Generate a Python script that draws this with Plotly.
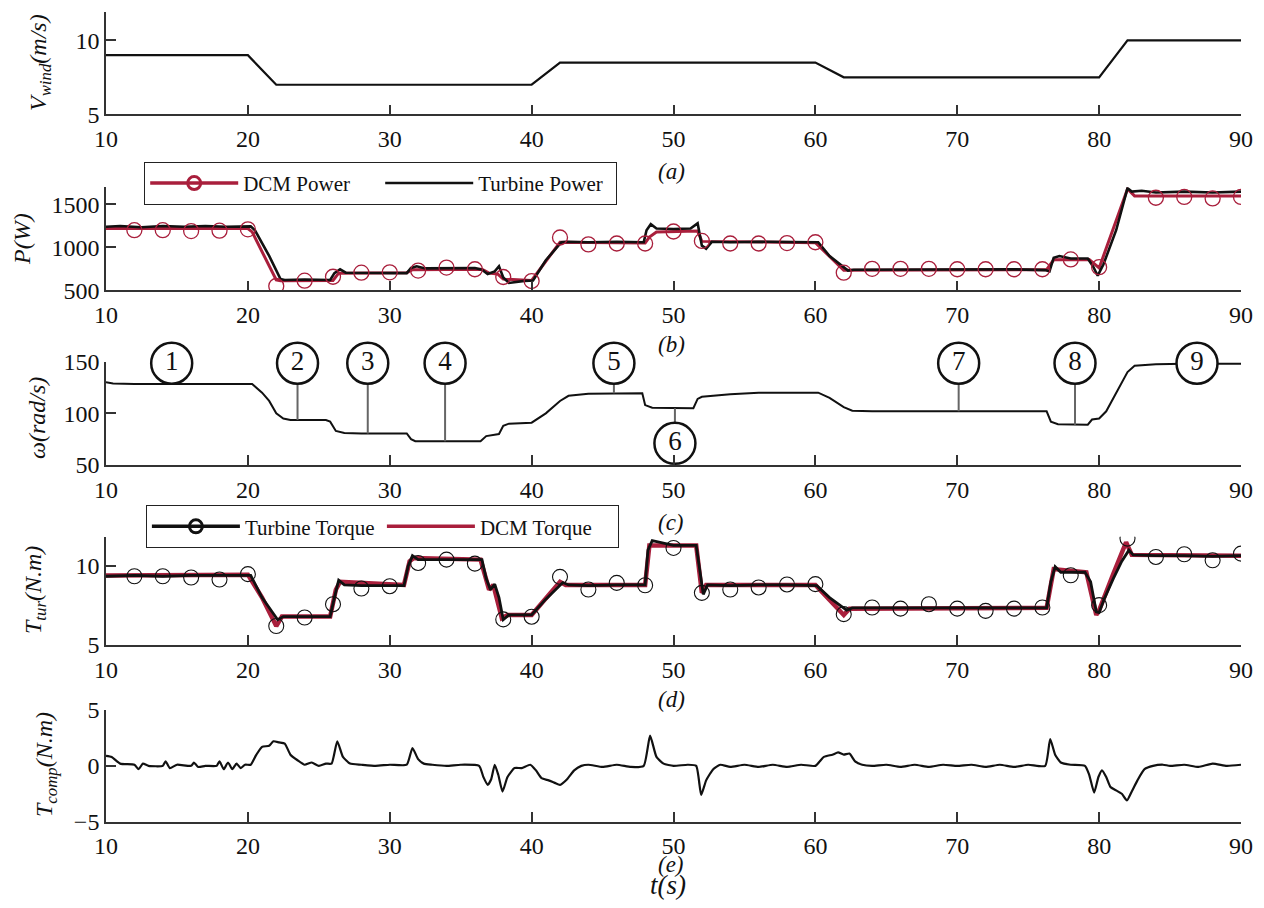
import plotly.graph_objects as go

FONT = "Liberation Serif"
RED = "#A91F3C"
BLK = "#111111"
AX = "#333333"

# ---------------- data ----------------
x_ticks = [10, 20, 30, 40, 50, 60, 70, 80, 90]

# (a) wind speed
t_wind = [10, 20, 22, 40, 42, 60, 62, 80, 82, 90]
v_wind = [9, 9, 7, 7, 8.5, 8.5, 7.5, 7.5, 10, 10]

# (b) turbine power (black)
t_pt = [10, 11, 12.5, 14, 15.5, 17, 18.5, 20.2, 20.5, 21.5, 22.3, 22.6, 24, 25.8, 26.1, 26.5, 26.9, 28, 30,
        31.2, 31.5, 31.9, 32.5, 34, 36, 36.5, 36.9, 37.4, 37.7, 38.0, 38.4, 39.5, 40.1, 41, 42.1, 42.5, 44, 46,
        47.9, 48.1, 48.4, 48.8, 50, 51.2, 51.5, 51.7, 52.0, 52.3, 52.7, 54, 56, 58, 60.2, 61, 62.3, 62.7, 64,
        66, 68, 70, 72, 74, 76.2, 76.5, 76.8, 77.2, 78, 79.2, 79.6, 79.9, 80.3, 81.2, 82.0, 82.3, 83, 84, 86, 88, 90]
p_turb = [1240, 1250, 1235, 1250, 1240, 1250, 1240, 1245, 1200, 900, 630, 620, 625, 620, 700, 745, 705, 705, 700,
          700, 760, 780, 755, 755, 760, 740, 690, 720, 780, 650, 585, 610, 615, 850, 1060, 1065, 1060, 1065,
          1060, 1200, 1270, 1220, 1215, 1220, 1260, 1280, 1020, 985, 1065, 1060, 1065, 1060, 1060, 900, 730, 740, 740,
          745, 738, 742, 740, 745, 735, 720, 880, 900, 870, 870, 770, 670, 800, 1200, 1690, 1650, 1660, 1640, 1650, 1640, 1650]

# (b) DCM power (red line)
t_pd = [10, 20.0, 20.3, 22.0, 22.3, 26.0, 26.4, 31.2, 31.6, 36.5, 37.0, 37.6, 38.0, 40.0, 42.0, 48.0, 48.3, 48.8,
        51.7, 52.0, 60.0, 62.0, 76.3, 76.8, 79.3, 79.8, 80.0, 82.0, 82.5, 90]
p_dcm = [1220, 1220, 1180, 620, 610, 615, 700, 705, 740, 745, 700, 690, 630, 615, 1060, 1050, 1120, 1180,
         1190, 1070, 1055, 735, 740, 855, 860, 790, 760, 1680, 1600, 1600]

# (b) DCM power markers
t_pm = [12, 14, 16, 18, 20, 22, 24, 26, 28, 30, 32, 34, 36, 38, 40, 42, 44, 46, 48, 50, 52, 54, 56, 58, 60,
        62, 64, 66, 68, 70, 72, 74, 76, 78, 80, 84, 86, 88, 90]
p_mark = [1200, 1200, 1190, 1195, 1210, 550, 612, 658, 705, 709, 730, 765, 745, 655, 608, 1115, 1035, 1045, 1045,
          1185, 1075, 1045, 1045, 1050, 1060, 705, 750, 750, 750, 745, 745, 745, 745, 860, 770, 1578, 1588, 1570, 1588]

# (c) rotor speed
t_w = [10, 10.5, 12, 14, 16, 18, 20.3, 21, 21.5, 22, 22.5, 23, 25.5, 25.8, 26.2, 26.8, 28, 31.2, 31.5, 31.8, 34,
       36.4, 36.8, 37.4, 37.7, 38.0, 38.4, 40.0, 41.0, 42.0, 42.6, 44, 47.8, 48.0, 48.5, 51.4, 51.7, 52.0, 54, 56,
       60.2, 61, 62, 62.6, 64, 76.3, 76.6, 77.1, 79.2, 79.5, 80.0, 80.5, 81.0, 81.5, 82.0, 82.5, 84, 86, 88, 90]
omega = [130, 129, 128.5, 128.5, 128.5, 128.5, 128.5, 120, 112, 100, 95, 93.5, 93.5, 92, 83, 81, 80.5, 80.5, 75, 73, 73,
         73, 78, 79, 80, 88, 90, 91, 100, 112, 117, 119, 119.5, 108, 105.5, 105, 114, 116, 118.5, 120,
         120, 115, 106, 102.5, 102, 102, 92, 89.5, 89, 94, 95, 102, 115, 128, 140, 146, 147.5, 148, 148, 148]

# (c) numbered operating points
t_lab = [14.63, 23.5, 28.45, 33.9, 45.8, 50.1, 70.1, 78.3, 86.9]
w_lab = [148.5, 148.5, 148.5, 148.5, 148.5, 71, 148.5, 148.5, 148.5]
n_lab = ["1", "2", "3", "4", "5", "6", "7", "8", "9"]
# stems: (time, from, to)
stem_t = [23.5, 28.45, 33.9, 45.8, 50.1, 70.1, 78.3]
stem_from = [128.5, 128.5, 128.5, 128.5, 105, 128.5, 128.5]
stem_to = [93.5, 80.5, 73, 119.5, 91.5, 102, 89]

# (d) turbine torque (black)
t_tt = [10, 12, 14, 16, 18, 20.2, 21, 22.1, 22.5, 24, 25.8, 26.1, 26.4, 26.8, 28, 31.0, 31.3, 31.6, 32, 34, 36.5,
        36.8, 37.1, 37.4, 37.7, 38.0, 38.4, 40.0, 41, 42.2, 42.6, 44, 46, 48.0, 48.2, 48.5, 50, 51.6, 51.9, 52.1,
        52.4, 54, 56, 58, 60.1, 61, 62.2, 62.6, 64, 70, 76.3, 76.6, 76.9, 77.3, 79.0, 79.4, 79.8, 80.0, 80.4, 81,
        81.6, 82.1, 82.4, 84, 86, 88, 90]
tq_turb = [9.35, 9.4, 9.35, 9.4, 9.4, 9.4, 8.0, 6.6, 6.8, 6.8, 6.8, 8.0, 9.1, 8.8, 8.75, 8.75, 10.0, 10.65, 10.4, 10.4, 10.4,
           9.2, 8.5, 8.85, 8.0, 6.6, 6.9, 6.9, 7.9, 8.95, 8.8, 8.75, 8.8, 8.8, 11.0, 11.6, 11.3, 11.3, 9.5, 8.2,
           8.8, 8.75, 8.8, 8.8, 8.75, 8.0, 7.2, 7.35, 7.35, 7.35, 7.35, 9.0, 9.95, 9.6, 9.6, 9.0, 7.1, 7.05, 8.0, 9.2,
           10.3, 11.0, 10.7, 10.65, 10.65, 10.6, 10.65]

# (d) DCM torque (red)
t_td = [10, 20.0, 21.0, 22.0, 22.4, 25.8, 26.2, 26.5, 31.0, 31.4, 31.7, 36.4, 37.0, 37.3, 37.9, 38.3, 40.0, 42.0,
        42.4, 48.0, 48.3, 51.6, 52.0, 52.3, 60.0, 62.0, 62.4, 76.3, 76.8, 79.1, 79.8, 80.0, 81.0, 81.9, 82.3, 90]
tq_dcm = [9.4, 9.45, 8.0, 6.2, 6.8, 6.8, 8.5, 9.0, 8.8, 10.3, 10.5, 10.4, 8.5, 8.8, 6.7, 6.9, 6.9, 9.0,
          8.8, 8.8, 11.3, 11.3, 8.3, 8.8, 8.8, 6.9, 7.3, 7.35, 9.8, 9.6, 6.9, 7.2, 9.5, 11.5, 10.7, 10.65]

# (d) turbine torque markers
t_tm = [12, 14, 16, 18, 20, 22, 24, 26, 28, 30, 32, 34, 36, 38, 40, 42, 44, 46, 48, 50, 52, 54, 56, 58, 60,
        62, 64, 66, 68, 70, 72, 74, 76, 78, 80, 82, 84, 86, 88, 90]
tq_mark = [9.35, 9.35, 9.27, 9.14, 9.48, 6.2, 6.74, 7.58, 8.57, 8.72, 10.19, 10.4, 10.15, 6.62, 6.79, 9.31, 8.51, 8.93,
           8.78, 11.14, 8.3, 8.51, 8.64, 8.83, 8.85, 6.95, 7.37, 7.3, 7.58, 7.3, 7.16, 7.3, 7.37, 9.41, 7.52,
           11.73, 10.57, 10.74, 10.36, 10.78]

# (e) compensation torque
t_c = [10, 10.4, 11, 12, 12.3, 12.6, 13, 14, 14.2, 14.5, 15, 16, 16.2, 16.5, 17, 17.8, 18.0, 18.3, 18.6, 18.9, 19.2,
       19.5, 19.8, 20.2, 20.6, 21.0, 21.5, 21.8, 22.2, 22.6, 23.0, 23.5, 24, 24.5, 25, 25.5, 25.9, 26.3, 26.7, 27.2,
       28, 29, 30, 31.2, 31.6, 32.0, 32.4, 33, 34, 35, 36.3, 36.6, 36.9, 37.15, 37.4, 37.65, 37.95, 38.3, 38.8, 39.3,
       39.9, 40.3, 40.7, 41.2, 41.6, 42.0, 42.5, 43.0, 43.5, 44, 45, 46, 47, 47.9, 48.35, 48.8, 49.3, 50, 51, 51.6,
       51.95, 52.3, 52.8, 53.3, 54, 55, 56, 57, 58, 59, 60, 60.6, 61.2, 61.6, 62.0, 62.4, 62.8, 63.3, 64, 65, 66,
       67, 68, 69, 70, 71, 72, 73, 74, 75, 76.2, 76.55, 76.9, 77.3, 78, 79.0, 79.3, 79.65, 79.95, 80.2, 80.5, 80.8,
       81.2, 81.6, 81.96, 82.3, 82.7, 83.2, 83.8, 84.5, 85, 86, 87, 88, 89, 90]
t_comp = [0.9, 0.8, 0.2, 0.1, -0.3, 0.2, 0.0, 0.0, 0.4, -0.2, 0.1, 0.0, 0.3, -0.1, 0.0, 0.0, 0.4, -0.3, 0.3, -0.3, 0.2,
          -0.2, 0.1, 0.1, 1.0, 1.7, 1.8, 2.2, 2.1, 2.0, 1.0, 0.5, 0.1, 0.3, 0.0, 0.2, 0.2, 2.2, 0.8, 0.2,
          0.1, 0.0, 0.1, 0.1, 1.6, 0.6, 0.2, 0.1, 0.0, 0.1, 0.0, -1.0, -1.7, -1.2, 0.1, -0.8, -2.3, -1.0, -0.2, -0.2,
          0.1, -0.4, -1.1, -1.3, -1.5, -1.7, -1.2, -0.4, 0.0, 0.1, -0.1, 0.1, -0.1, 0.0, 2.7, 0.8, 0.2, 0.0, 0.1, 0.0,
          -2.6, -1.3, -0.3, 0.1, -0.1, 0.1, -0.1, 0.1, -0.1, 0.1, 0.0, 0.8, 1.0, 1.2, 1.0, 1.1, 0.4, 0.1, 0.0, 0.1, -0.1,
          0.1, -0.1, 0.1, 0.0, 0.1, -0.1, 0.1, -0.1, 0.1, 0.0, 2.4, 1.0, 0.3, 0.1, 0.0, -0.8, -2.4, -1.0, -0.4, -1.0, -1.9,
          -2.2, -2.5, -3.1, -2.3, -1.3, -0.3, 0.0, 0.1, 0.0, 0.1, -0.1, 0.2, 0.0, 0.1]

# ---------------- figure ----------------
OFF = 8                      # page body margin of the exported html
W, H = 1264 - 2 * OFF, 908 - 2 * OFF


def px(x):
    return (x - OFF) / W


def py(y):
    return 1 - (y - OFF) / H


XD = [px(106), px(1241)]
tops_bots = [(12.3, 114.3), (187.3, 290.3), (361.7, 465.0), (536.7, 645.0), (710.0, 821.7)]
yranges = [[5, 11.9], [500, 1700], [50, 150], [5, 11.85], [-5, 5]]
ytickvals = [[5, 10], [500, 1000, 1500], [50, 100, 150], [5, 10], [-5, 0, 5]]

fig = go.Figure()


def ax(i):
    return ("x" if i == 1 else f"x{i}"), ("y" if i == 1 else f"y{i}")


# (a)
xa, ya = ax(1)
fig.add_trace(go.Scatter(x=t_wind, y=v_wind, mode="lines", line=dict(color=BLK, width=2.2),
                         xaxis=xa, yaxis=ya, showlegend=False))
# (b)
xa, ya = ax(2)
fig.add_trace(go.Scatter(x=t_pd, y=p_dcm, mode="lines", line=dict(color=RED, width=3),
                         xaxis=xa, yaxis=ya, showlegend=False))
fig.add_trace(go.Scatter(x=t_pt, y=p_turb, mode="lines", line=dict(color=BLK, width=2.6),
                         xaxis=xa, yaxis=ya, showlegend=False))
fig.add_trace(go.Scatter(x=t_pm, y=p_mark, mode="markers",
                         marker=dict(symbol="circle-open", size=15, color=RED, line=dict(width=1.3)),
                         xaxis=xa, yaxis=ya, showlegend=False))
fig.add_trace(go.Scatter(x=[None], y=[None], mode="lines+markers", name="DCM Power",
                         line=dict(color=RED, width=3.5),
                         marker=dict(symbol="circle-open", size=13, color=RED, line=dict(width=3)),
                         xaxis=xa, yaxis=ya, legend="legend"))
fig.add_trace(go.Scatter(x=[None], y=[None], mode="lines", name="Turbine Power",
                         line=dict(color=BLK, width=2.5), xaxis=xa, yaxis=ya, legend="legend"))
# (c)
xa, ya = ax(3)
fig.add_trace(go.Scatter(x=t_w, y=omega, mode="lines", line=dict(color=BLK, width=2),
                         xaxis=xa, yaxis=ya, showlegend=False))
sx, sy = [], []
for t, a, b in zip(stem_t, stem_from, stem_to):
    sx += [t, t, None]
    sy += [a, b, None]
fig.add_trace(go.Scatter(x=sx, y=sy, mode="lines", line=dict(color="#666666", width=2),
                         xaxis=xa, yaxis=ya, showlegend=False, cliponaxis=False))
fig.add_trace(go.Scatter(x=t_lab, y=w_lab, mode="markers+text", text=n_lab, textposition="middle center",
                         textfont=dict(family=FONT, size=27, color=BLK),
                         marker=dict(symbol="circle", size=41, color="white", line=dict(color=BLK, width=2.5)),
                         xaxis=xa, yaxis=ya, showlegend=False, cliponaxis=False))
# (d)
xa, ya = ax(4)
fig.add_trace(go.Scatter(x=t_td, y=tq_dcm, mode="lines", line=dict(color=RED, width=4.5),
                         xaxis=xa, yaxis=ya, showlegend=False))
fig.add_trace(go.Scatter(x=t_tt, y=tq_turb, mode="lines", line=dict(color=BLK, width=2.8),
                         xaxis=xa, yaxis=ya, showlegend=False))
fig.add_trace(go.Scatter(x=t_tm, y=tq_mark, mode="markers",
                         marker=dict(symbol="circle-open", size=15, color=BLK, line=dict(width=1.1)),
                         xaxis=xa, yaxis=ya, showlegend=False))
fig.add_trace(go.Scatter(x=[None], y=[None], mode="lines+markers", name="Turbine Torque",
                         line=dict(color=BLK, width=3.5),
                         marker=dict(symbol="circle-open", size=13, color=BLK, line=dict(width=3)),
                         xaxis=xa, yaxis=ya, legend="legend2"))
fig.add_trace(go.Scatter(x=[None], y=[None], mode="lines", name="DCM Torque",
                         line=dict(color=RED, width=3.5), xaxis=xa, yaxis=ya, legend="legend2"))
# (e)
xa, ya = ax(5)
fig.add_trace(go.Scatter(x=t_c, y=t_comp, mode="lines", line=dict(color=BLK, width=2.2, shape="spline", smoothing=0.5),
                         xaxis=xa, yaxis=ya, showlegend=False))

layout = dict(width=W, height=H, margin=dict(l=0, r=0, t=0, b=0, autoexpand=False),
              paper_bgcolor="white", plot_bgcolor="white",
              font=dict(family=FONT, size=22, color=BLK))
for i in range(1, 6):
    top, bot = tops_bots[i - 1]
    xk = "xaxis" if i == 1 else f"xaxis{i}"
    yk = "yaxis" if i == 1 else f"yaxis{i}"
    yname = "y" if i == 1 else f"y{i}"
    xname = "x" if i == 1 else f"x{i}"
    layout[xk] = dict(domain=XD, anchor=yname, range=[10, 90], tickvals=x_ticks,
                      showline=True, linecolor=AX, linewidth=1.6, ticks="inside", ticklen=10,
                      tickwidth=1.6, tickcolor=AX, showgrid=False, zeroline=False, automargin=False,
                      tickfont=dict(family=FONT, size=24, color=BLK), ticklabelstandoff=2)
    layout[yk] = dict(domain=[py(bot), py(top)], anchor=xname, range=yranges[i - 1],
                      tickvals=ytickvals[i - 1], showline=True, linecolor=AX, linewidth=1.6,
                      ticks="inside", ticklen=10, tickwidth=1.6, tickcolor=AX, showgrid=False,
                      zeroline=False, automargin=False,
                      tickfont=dict(family=FONT, size=24, color=BLK), ticklabelstandoff=0)

leg_common = dict(orientation="h", xanchor="left", yanchor="top", bgcolor="white", bordercolor="#222222",
                  borderwidth=1.2, font=dict(family=FONT, size=21, color=BLK), itemwidth=88,
                  entrywidth=132, traceorder="normal")
layout["legend"] = dict(x=px(144), y=py(161.7), **leg_common)
layout["legend2"] = dict(x=px(145.7), y=py(505), **leg_common)

ann = []


def pa(x, y, text, size=22, angle=0):
    ann.append(dict(x=px(x), y=py(y), xref="paper", yref="paper", text=text, showarrow=False,
                    textangle=angle, font=dict(family=FONT, size=size, color=BLK),
                    xanchor="center", yanchor="middle"))


for lab, yy in zip(["(a)", "(b)", "(c)", "(d)", "(e)"], [171, 344, 522, 699, 864]):
    pa(671, yy, f"<i>{lab}</i>", 23)
pa(668, 885, "<i>t(s)</i>", 27)
pa(40, 63, "<i>V<sub>wind</sub>(m/s)</i>", 24, -90)
pa(22, 239, "<i>P(W)</i>", 24, -90)
pa(37, 418, "<i>ω(rad/s)</i>", 24, -90)
pa(35, 590, "<i>T<sub>tur</sub>(N.m)</i>", 24, -90)
pa(46, 765, "<i>T<sub>comp</sub>(N.m)</i>", 24, -90)
layout["annotations"] = ann

fig.update_layout(**layout)
fig.write_html("out.html")
